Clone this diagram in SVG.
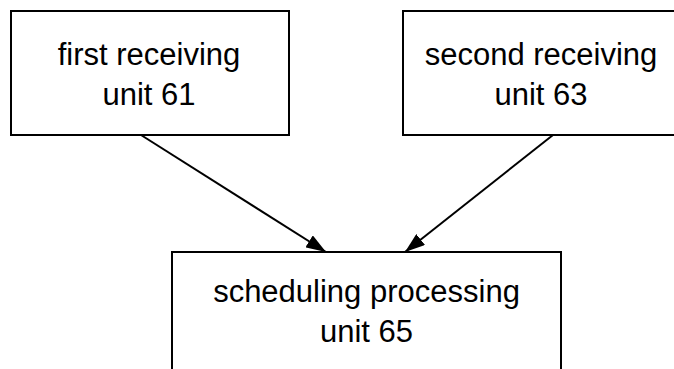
<svg xmlns="http://www.w3.org/2000/svg" width="674" height="369" viewBox="0 0 674 369">
<style>
.box{fill:#fff;stroke:#000;stroke-width:2}
.lbl{font-family:"Liberation Sans",Arial,sans-serif;font-size:31px;fill:#000;text-anchor:middle}
.edge{stroke:#000;stroke-width:2;fill:none}
</style>
<defs>
<marker id="arr" viewBox="0 0 20 14" refX="20" refY="7" markerWidth="20" markerHeight="14" markerUnits="userSpaceOnUse" orient="auto">
<path d="M0,0 L20,7 L0,14 Z" fill="#000"/>
</marker>
</defs>
<rect width="674" height="369" fill="#fff"/>
<g id="connectors">
<line class="edge" x1="141" y1="135" x2="326" y2="252" marker-end="url(#arr)"/>
<line class="edge" x1="553" y1="135" x2="405" y2="252" marker-end="url(#arr)"/>
</g>
<g id="n61">
<rect class="box" x="11" y="11" width="278" height="124"/>
<text class="lbl" x="149" y="65">first receiving</text>
<text class="lbl" x="149" y="105">unit 61</text>
</g>
<g id="n63">
<rect class="box" x="403" y="11" width="290" height="124"/>
<text class="lbl" x="541" y="65">second receiving</text>
<text class="lbl" x="541" y="105">unit 63</text>
</g>
<g id="n65">
<rect class="box" x="172" y="252" width="389" height="140"/>
<text class="lbl" x="366.5" y="302">scheduling processing</text>
<text class="lbl" x="366.5" y="342">unit 65</text>
</g>
</svg>
